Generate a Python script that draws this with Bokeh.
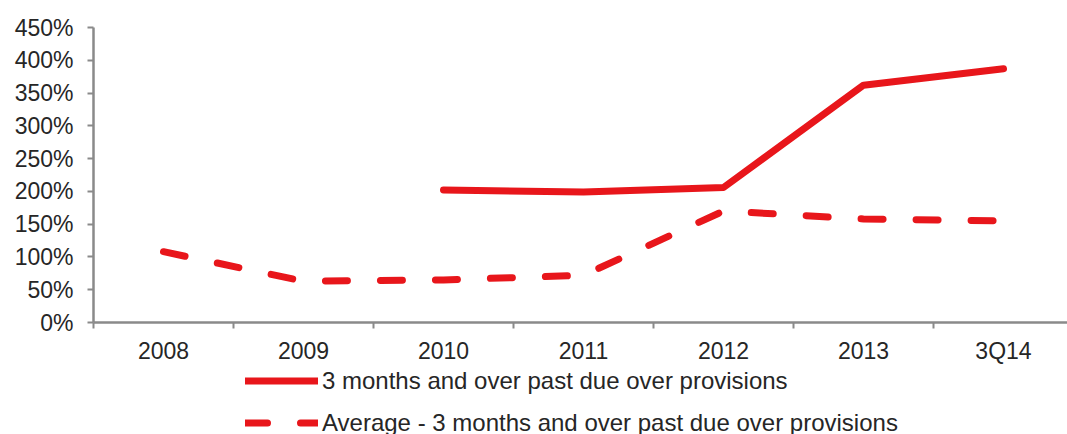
from bokeh.plotting import figure
from bokeh.layouts import column
from bokeh.models import ColumnDataSource, FixedTicker, PrintfTickFormatter, Range1d, Legend, LegendItem
from bokeh.embed import file_html
from bokeh.resources import INLINE

categories = ["2008", "2009", "2010", "2011", "2012", "2013", "3Q14"]
past_due_over_prov = [float("nan"), float("nan"), 202, 199, 206, 362, 387]
avg_past_due_over_prov = [108, 63, 65, 72, 170, 158, 155]
y_ticks = [0, 50, 100, 150, 200, 250, 300, 350, 400, 450]
series_names = ["3 months and over past due over provisions",
                "Average - 3 months and over past due over provisions"]

x = list(range(len(categories)))
src = ColumnDataSource(dict(x=x, a=past_due_over_prov, b=avg_past_due_over_prov))

FONT = "Liberation Sans"
TXT = "#262626"
AX = "#8a8a8a"
RED = "#e8161b"
SOLID = dict(line_color=RED, line_width=7, line_cap="round", line_join="round")
DASHED = dict(SOLID, line_dash="22 33")

BOTTOM = 43
MAIN_H = 323 + BOTTOM
p = figure(width=1067, height=MAIN_H, output_backend="svg", toolbar_location=None,
           x_range=Range1d(-0.5, -0.5 + 974 / 140), y_range=Range1d(0, 450),
           min_border_left=93, min_border_right=0, min_border_top=27, min_border_bottom=BOTTOM)
p.outline_line_color = None
p.xgrid.visible = False
p.ygrid.visible = False
p.background_fill_color = "white"
p.border_fill_color = "white"

p.line("x", "a", source=src, **SOLID)
p.line("x", "b", source=src, **DASHED)

xa = p.xaxis[0]
xa.ticker = FixedTicker(ticks=x, minor_ticks=[i - 0.5 for i in range(len(categories) + 1)])
xa.major_label_overrides = {i: c for i, c in enumerate(categories)}
xa.major_tick_out = 0
xa.major_tick_in = 0
xa.minor_tick_out = 6
xa.minor_tick_in = 0
xa.minor_tick_line_color = AX
xa.minor_tick_line_width = 2
xa.axis_line_color = AX
xa.axis_line_width = 2.5
xa.major_label_standoff = 9
xa.major_label_text_font = FONT
xa.major_label_text_font_size = "23px"
xa.major_label_text_color = TXT

ya = p.yaxis[0]
ya.ticker = FixedTicker(ticks=y_ticks, minor_ticks=[])
ya.formatter = PrintfTickFormatter(format="%d%%")
ya.major_tick_out = 6
ya.major_tick_in = 0
ya.major_tick_line_color = AX
ya.major_tick_line_width = 2
ya.axis_line_color = AX
ya.axis_line_width = 2.5
ya.major_label_standoff = 14
ya.major_label_text_font = FONT
ya.major_label_text_font_size = "23px"
ya.major_label_text_color = TXT

# legend strip below the chart (lines here lie outside its view; only the legend shows)
LEG_H = 434 - MAIN_H
ROW_H = 29
SPACING = 13
LEG_BOX = 2 * ROW_H + SPACING
q = figure(width=1067, height=LEG_H, output_backend="svg", toolbar_location=None,
           x_range=Range1d(100, 101), y_range=Range1d(10000, 10001),
           min_border=0, x_axis_type=None, y_axis_type=None)
q.outline_line_color = None
q.xgrid.visible = False
q.ygrid.visible = False
r1 = q.line("x", "a", source=src, **SOLID)
r2 = q.line("x", "b", source=src, **DASHED)

legend = Legend(items=[LegendItem(label=series_names[0], renderers=[r1]),
                       LegendItem(label=series_names[1], renderers=[r2])],
                location=(152, LEG_H - LEG_BOX), padding=0, margin=0, spacing=SPACING,
                label_height=ROW_H, glyph_height=ROW_H, glyph_width=73, label_standoff=4,
                label_text_font=FONT, label_text_font_size="24px", label_text_color=TXT,
                border_line_alpha=0, background_fill_alpha=0)
q.add_layout(legend, "center")

layout = column(p, q, spacing=0)
open("out.html", "w").write(file_html(layout, INLINE))
